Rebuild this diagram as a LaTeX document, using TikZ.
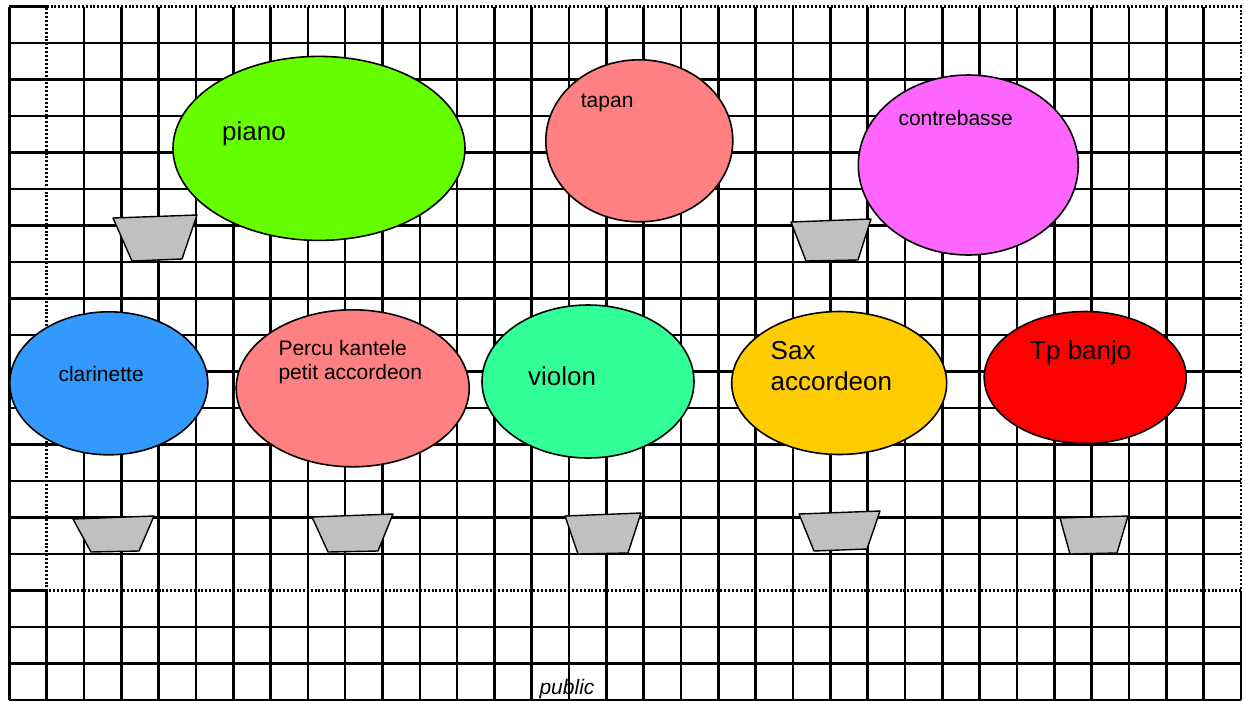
\documentclass[tikz,border=0pt]{standalone}
\usepackage{fontspec}
\setmainfont{Liberation Sans}
\usepackage{tikz}
\usetikzlibrary{shapes,positioning}

\definecolor{pianogreen}{HTML}{66FF00}
\definecolor{salmon}{HTML}{FF8080}
\definecolor{pinkbass}{HTML}{FF66FF}
\definecolor{clarblue}{HTML}{3399FF}
\definecolor{violgreen}{HTML}{33FF99}
\definecolor{saxyellow}{HTML}{FFCC00}
\definecolor{standgray}{HTML}{C0C0C0}

\tikzset{
    gridline/.style={line width=2.6pt},
    stageline/.style={line width=2.6pt, dash pattern=on 2pt off 1.9pt},
    group/.style={ellipse, draw, line width=1.6pt, inner sep=0pt},
    stand/.style={draw, line width=1.4pt, fill=standgray, line join=round},
    small/.style={font=\fontsize{21}{23.5}\selectfont, inner sep=0pt, align=left},
    big/.style={font=\fontsize{26}{30.5}\selectfont, inner sep=0pt, align=left}
}

\begin{document}
\begin{tikzpicture}[x=1pt, y=-1pt]
    \useasboundingbox (0,0) rectangle (1245,702);

    % Grid of the hall
    \foreach \i in {0,2,3,...,32}
        \draw[gridline] ({9.3+37.32*\i},6.7) -- ({9.3+37.32*\i},700);
    \foreach \j in {1,...,15,17,18,19}
        \draw[gridline] (9.3,{6.7+36.49*\j}) -- (1241,{6.7+36.49*\j});
    \foreach \i in {1,33}
        \draw[gridline] ({9.3+37.32*\i},590.5) -- ({9.3+37.32*\i},700);
    \foreach \j in {0,16}
        \draw[gridline] (9.3,{6.7+36.49*\j}) -- (46.6,{6.7+36.49*\j});

    % Stage outline
    \draw[stageline] (46.6,6.7) -- (1241,6.7) -- (1241,590.5) -- (46.6,590.5) -- cycle;

    % Back row
    \node[group, fill=pianogreen, minimum width=292pt, minimum height=184pt] (piano) at (319,148.4) {};
    \node[group, fill=salmon, minimum width=187pt, minimum height=162pt] (tapan) at (639.3,140.8) {};
    \node[group, fill=pinkbass, minimum width=220pt, minimum height=180pt] (contrebasse) at (968.3,165) {};

    % Front row
    \node[group, fill=clarblue, minimum width=198pt, minimum height=143pt] (clarinette) at (108.8,383.3) {};
    \node[group, fill=salmon, minimum width=233pt, minimum height=157pt] (percu) at (352.7,388.3) {};
    \node[group, fill=violgreen, minimum width=212pt, minimum height=153pt] (violon) at (588,381.5) {};
    \node[group, fill=saxyellow, minimum width=215pt, minimum height=143pt] (sax) at (839.2,383) {};
    \node[group, fill=red, minimum width=202pt, minimum height=132pt] (tp) at (1085.2,377.5) {};

    % Names (base = last line)
    \node[big, anchor=base west] (piano-txt) at (222,140) {piano};
    \node[small, anchor=base west] (tapan-txt) at (580.7,107.7) {tapan};
    \node[small, anchor=base west] (contrebasse-txt) at (898.3,125) {contrebasse};
    \node[small, anchor=base west] (clarinette-txt) at (58.3,381.7) {clarinette};
    \node[small, anchor=base west] (percu-txt) at (278.3,379) {Percu kantele\\petit accordeon};
    \node[big, anchor=base west] (violon-txt) at (528,385) {violon};
    \node[big, anchor=base west] (sax-txt) at (770.5,390) {Sax\\accordeon};
    \node[big, anchor=base west] (tp-txt) at (1030,359.3) {Tp banjo};

    % Music stands
    \draw[stand] (113,218) -- (197,215) -- (182,259) -- (132,261) -- cycle;
    \draw[stand] (791,222) -- (871,219) -- (858,260) -- (806,261) -- cycle;
    \draw[stand] (73,519) -- (154,516) -- (139,551) -- (91,552) -- cycle;
    \draw[stand] (312,517) -- (393,514) -- (378,551) -- (328,552) -- cycle;
    \draw[stand] (565,516) -- (641,513) -- (628,553) -- (578,554) -- cycle;
    \draw[stand] (799,514) -- (880,511) -- (867,549) -- (814,551) -- cycle;
    \draw[stand] (1060,518) -- (1128,516) -- (1117,553) -- (1070,554) -- cycle;

    % Audience
    \node[small, font=\fontsize{21}{23.5}\selectfont\itshape, anchor=base] (public) at (567,694) {public};
\end{tikzpicture}
\end{document}
